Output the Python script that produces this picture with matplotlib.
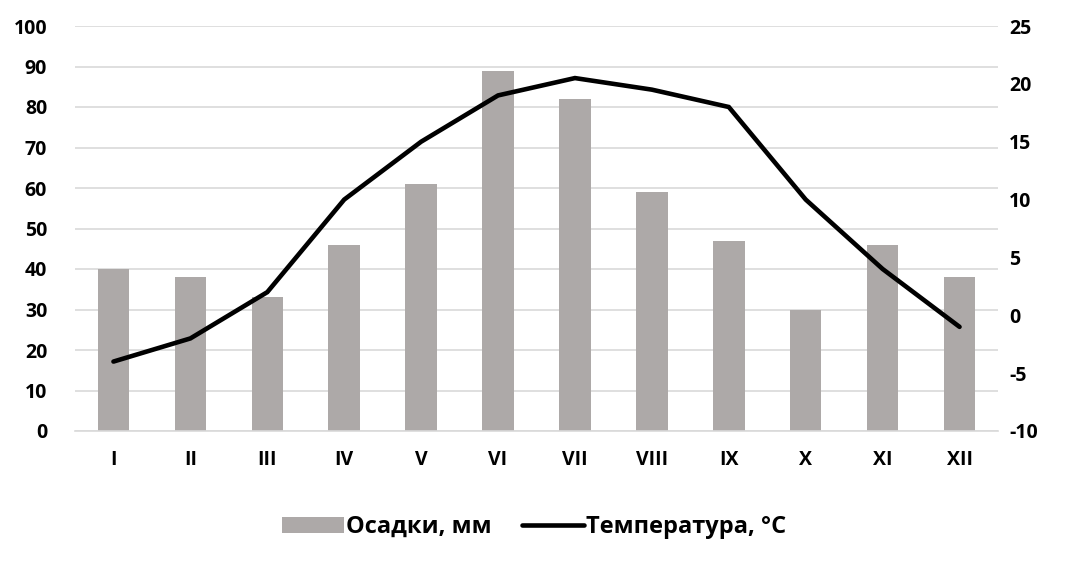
import matplotlib.pyplot as plt
import numpy as np

plt.rcParams['font.family'] = ['Open Sans', 'DejaVu Sans']
plt.rcParams['font.weight'] = 'bold'
plt.rcParams['axes.unicode_minus'] = False

months = ['I', 'II', 'III', 'IV', 'V', 'VI', 'VII', 'VIII', 'IX', 'X', 'XI', 'XII']
precip = [40, 38, 33, 46, 61, 89, 82, 59, 47, 30, 46, 38]
temp = [-4, -2, 2, 10, 15, 19, 20.5, 19.5, 18, 10, 4, -1]

fig = plt.figure(figsize=(10.75, 5.7), dpi=100)
ax = fig.add_axes([75 / 1075, 1 - 431 / 570, 923 / 1075, 405 / 570])
ax2 = ax.twinx()

x = np.arange(len(months))
bars = ax.bar(x, precip, width=0.41, color='#ADA9A8', label='Осадки, мм', zorder=2)
line, = ax2.plot(x, temp, color='black', lw=3.3, label='Температура, °C',
                 solid_joinstyle='miter', solid_capstyle='round')

ax.set_xlim(-0.5, len(months) - 0.5)
ax.set_ylim(0, 100)
ax.set_yticks(range(0, 101, 10))
ax2.set_ylim(-10, 25)
ax2.set_yticks(range(-10, 26, 5))
ax.set_xticks(x)
ax.set_xticklabels(months)

ax.grid(axis='y', color='#D9D9D9', lw=1.2, zorder=0)
ax.set_axisbelow(True)
for a in (ax, ax2):
    for s in a.spines.values():
        s.set_visible(False)
    a.tick_params(length=0, labelsize=14)
    for lab in a.get_xticklabels() + a.get_yticklabels():
        lab.set_fontweight('bold')
ax.spines['bottom'].set_visible(True)
ax.spines['bottom'].set_color('#D9D9D9')
ax.spines['bottom'].set_linewidth(1.2)
ax.tick_params(axis='y', pad=20)
ax.tick_params(axis='x', pad=14)
ax2.tick_params(axis='y', pad=8)

fig.legend([bars, line], ['Осадки, мм', 'Температура, °C'], loc='center',
           bbox_to_anchor=(0.497, 0.075), ncol=2, frameon=False,
           prop={'size': 17, 'weight': 'bold'}, handlelength=2.6,
           handletextpad=0.1, columnspacing=1.3)

fig.savefig('out.png', dpi=100)
